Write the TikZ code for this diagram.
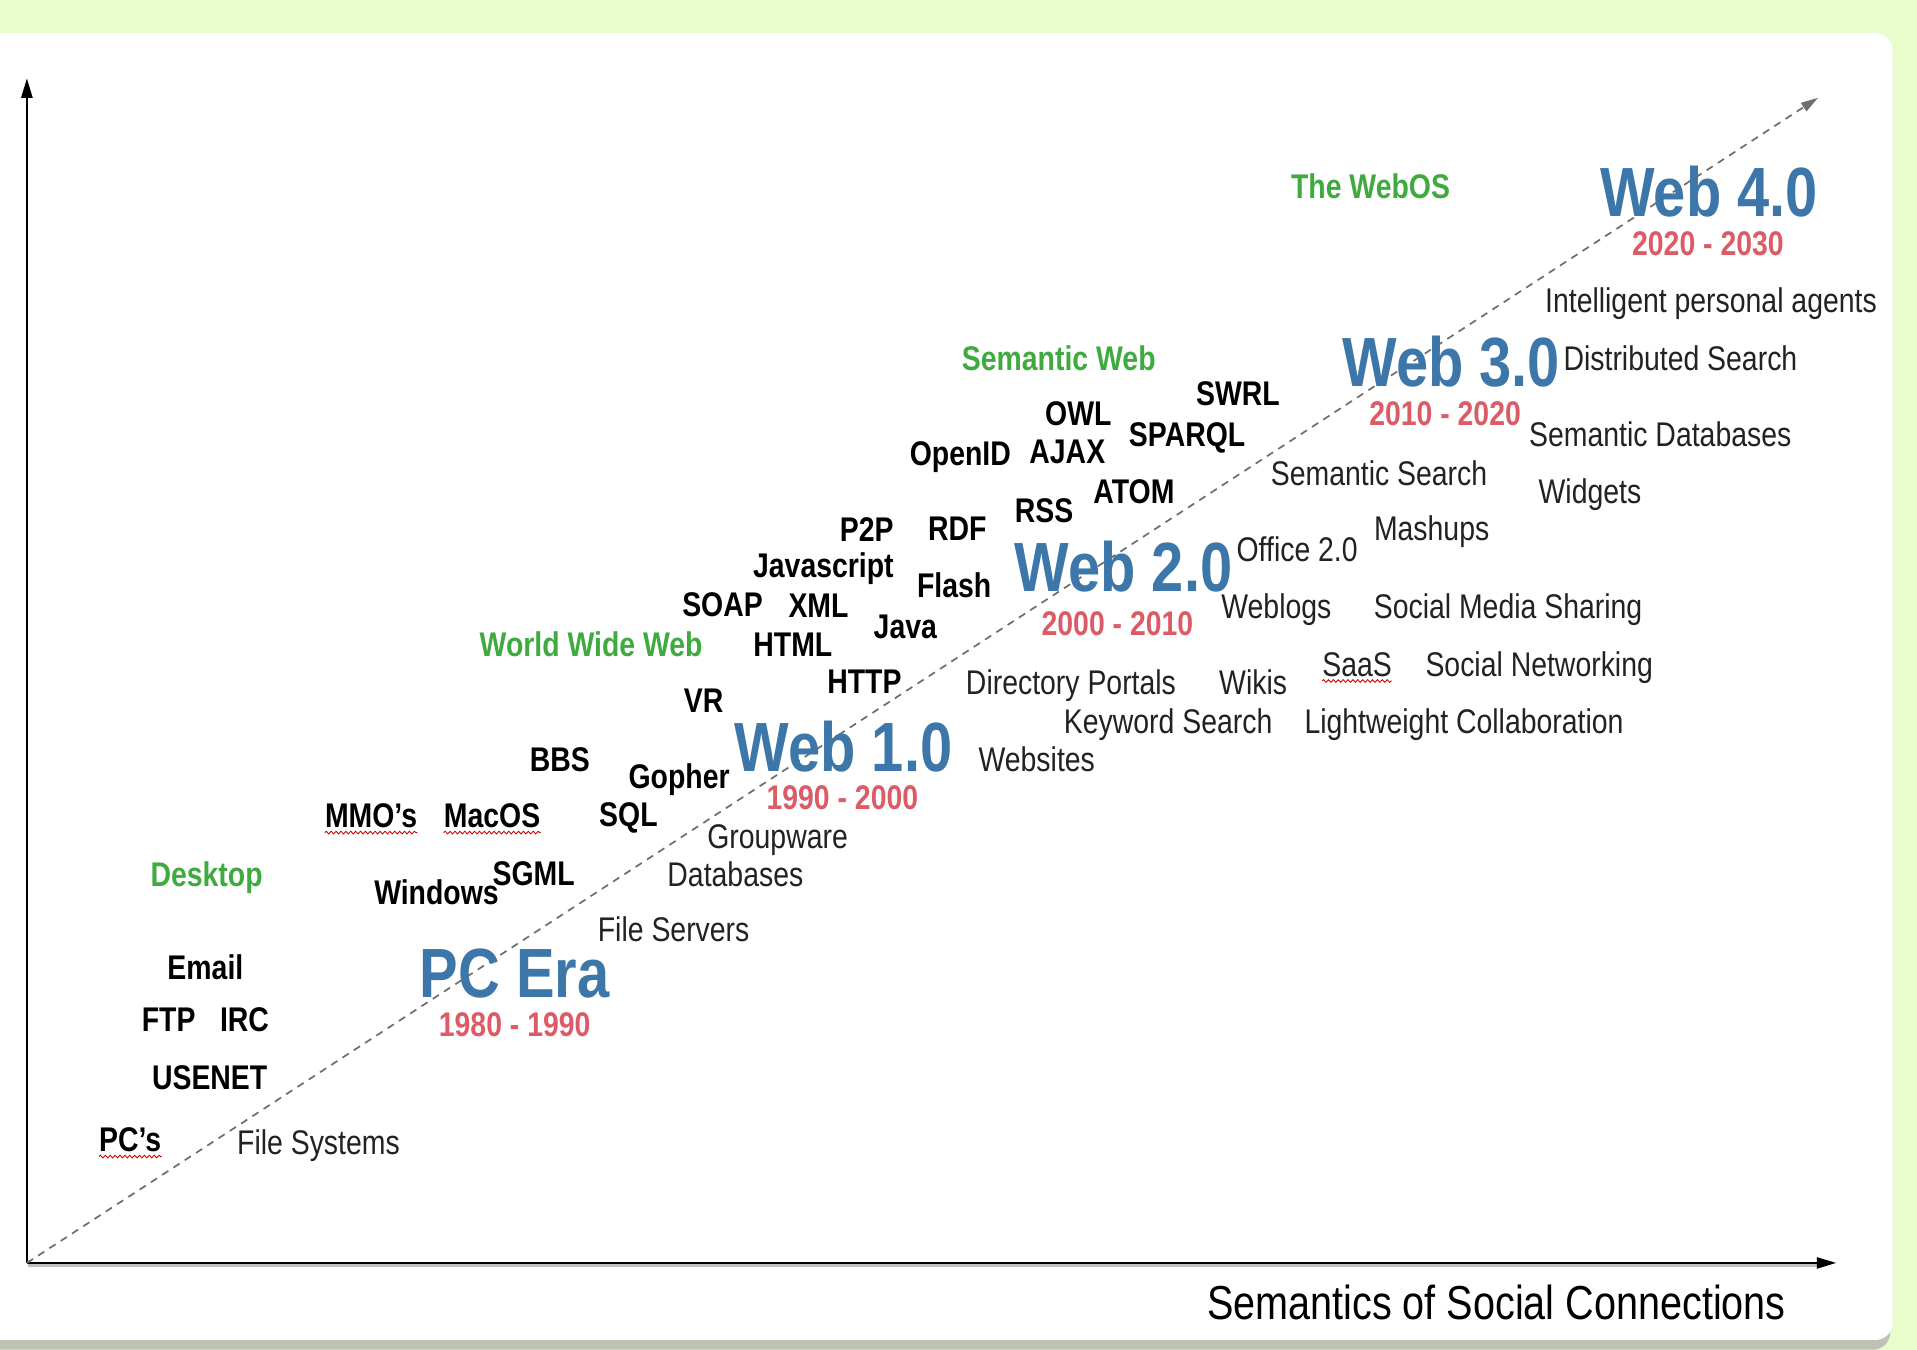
\documentclass[tikz,border=0pt]{standalone}
\usepackage{fontspec}
\setmainfont{Liberation Sans}[FakeStretch=0.83]
\usetikzlibrary{arrows.meta,decorations.pathmorphing}
\definecolor{bggreen}{HTML}{E9FCCB}
\definecolor{shadowgray}{HTML}{BEC2B4}
\definecolor{erablue}{HTML}{3D76A8}
\definecolor{yearred}{HTML}{DB5C66}
\definecolor{labgreen}{HTML}{3FAA3F}
\definecolor{txtgray}{HTML}{222222}
\definecolor{dashgray}{HTML}{6E6E6E}
\tikzset{
  lbl/.style={inner sep=0pt, anchor=base},
  plain/.style={lbl, font=\fontsize{28}{32}\selectfont, text=txtgray},
  tech/.style={lbl, font=\fontsize{28}{32}\selectfont\bfseries, text=black},
  era/.style={lbl, font=\fontsize{28}{32}\selectfont\bfseries, text=labgreen},
  webver/.style={lbl, font=\fontsize{57}{64}\selectfont\bfseries, text=erablue, text height=41pt, text depth=0pt},
  years/.style={lbl, font=\fontsize{28}{32}\selectfont\bfseries, text=yearred, text height=20pt, text depth=0pt},
  axislabel/.style={lbl, font=\fontsize{39}{44}\selectfont, text=black},
  axisline/.style={line width=2pt, black, -{Triangle[length=16pt,width=9pt]}},
  trend/.style={line width=1.4pt, dashgray, dash pattern=on 6pt off 5pt, -{Triangle[length=14pt,width=8pt]}},
  squiggle/.style={red!80!black, line width=0.7pt, decorate, decoration={snake, segment length=4pt, amplitude=1.1pt}}
}
\begin{document}
\begin{tikzpicture}[x=1pt,y=-1pt]
\useasboundingbox (0,0) rectangle (1568,1104);
% background and panel
\fill[bggreen] (0,0) rectangle (1568,1104);
\fill[shadowgray, rounded corners=14pt] (-30,34) rectangle (1546,1104);
\fill[white, rounded corners=14pt] (-30,27) rectangle (1548,1096);

% axes
\coordinate (O) at (22,1033);
\coordinate (ytip) at (22,64);
\coordinate (xtip) at (1502,1033);
\coordinate (dtip) at (1487,80);
\draw[line width=2pt, black!25] ([shift={(1pt,-2pt)}]O) -- ([shift={(-14pt,-2pt)}]xtip);
\draw[axisline] (O) -- (ytip);
\draw[axisline] (O) -- (xtip);
\draw[trend] (O) -- (dtip);

% eras
\node[era] (webos) at (1121,162) {The WebOS};
\node[era] (semweb) at (866,303) {Semantic Web};
\node[era] (www) at (483.5,537) {World Wide Web};
\node[era] (desktop) at (169,725) {Desktop};

% web versions
\node[webver] (w4) at (1398,177) {Web 4.0};
\node[webver] (w3) at (1187,316) {Web 3.0};
\node[webver] (w2) at (919,484) {Web 2.0};
\node[webver] (w1) at (690,631) {Web 1.0};
\node[webver] (pc) at (421,816) {PC Era};

% years
\node[years] (y4) at (1397,209) {2020 - 2030};
\node[years] (y3) at (1182,348) {2010 - 2020};
\node[years] (y2) at (914,520) {2000 - 2010};
\node[years] (y1) at (689,662) {1990 - 2000};
\node[years] (y0) at (421,848) {1980 - 1990};

% technologies
\node[tech] (swrl) at (1012.5,332) {SWRL};
\node[tech] (owl) at (882,348) {OWL};
\node[tech] (sparql) at (971,365) {SPARQL};
\node[tech] (openid) at (785.5,381) {OpenID};
\node[tech] (ajax) at (873,379) {AJAX};
\node[tech] (atom) at (927.5,412) {ATOM};
\node[tech] (rss) at (854,427) {RSS};
\node[tech] (p2p) at (709,443) {P2P};
\node[tech] (rdf) at (783,442) {RDF};
\node[tech] (js) at (673.5,472) {Javascript};
\node[tech] (flash) at (780.5,489) {Flash};
\node[tech] (soap) at (591,504) {SOAP};
\node[tech] (xml) at (669.5,505) {XML};
\node[tech] (java) at (740.5,522) {Java};
\node[tech] (html) at (648.5,537) {HTML};
\node[tech] (http) at (707,567) {HTTP};
\node[tech] (vr) at (575.5,583) {VR};
\node[tech] (bbs) at (458,631) {BBS};
\node[tech] (gopher) at (555.5,645) {Gopher};
\node[tech] (mmo) at (303.5,677) {MMO’s};
\node[tech] (macos) at (402.5,677) {MacOS};
\node[tech] (sql) at (514,676) {SQL};
\node[tech] (sgml) at (436.5,724) {SGML};
\node[tech] (windows) at (357,740) {Windows};
\node[tech] (email) at (168,801) {Email};
\node[tech] (ftp) at (138,844) {FTP};
\node[tech] (irc) at (200,844) {IRC};
\node[tech] (usenet) at (171.5,891) {USENET};
\node[tech] (pcs) at (106.5,942) {PC’s};

% applications
\node[plain] (agents) at (1399.5,256) {Intelligent personal agents};
\node[plain] (dsearch) at (1374.5,303) {Distributed Search};
\node[plain] (semdb) at (1358,365) {Semantic Databases};
\node[plain] (semsearch) at (1128,397) {Semantic Search};
\node[plain] (widgets) at (1300.5,412) {Widgets};
\node[plain] (mashups) at (1171,442) {Mashups};
\node[plain] (office) at (1061,459) {Office 2.0};
\node[plain] (weblogs) at (1044,506) {Weblogs};
\node[plain] (smsharing) at (1233.5,506) {Social Media Sharing};
\node[plain] (saas) at (1110,553) {SaaS};
\node[plain] (socnet) at (1259,553) {Social Networking};
\node[plain] (dirport) at (876,568) {Directory Portals};
\node[plain] (wikis) at (1025,568) {Wikis};
\node[plain] (kwsearch) at (955.5,600) {Keyword Search};
\node[plain] (lwcollab) at (1197.5,600) {Lightweight Collaboration};
\node[plain] (websites) at (848,631) {Websites};
\node[plain] (groupware) at (636,694) {Groupware};
\node[plain] (databases) at (601.5,725) {Databases};
\node[plain] (fileservers) at (551,770) {File Servers};
\node[plain] (filesystems) at (260.5,944) {File Systems};

\node[axislabel] (xlabel) at (1224,1079) {Semantics of Social Connections};

% spell-check squiggles
\draw[squiggle] ([yshift=-4pt]mmo.base west) -- ([yshift=-4pt]mmo.base east);
\draw[squiggle] ([yshift=-4pt]macos.base west) -- ([yshift=-4pt]macos.base east);
\draw[squiggle] ([yshift=-4pt]pcs.base west) -- ([yshift=-4pt]pcs.base east);
\draw[squiggle] ([yshift=-4pt]saas.base west) -- ([yshift=-4pt]saas.base east);
\end{tikzpicture}
\end{document}
